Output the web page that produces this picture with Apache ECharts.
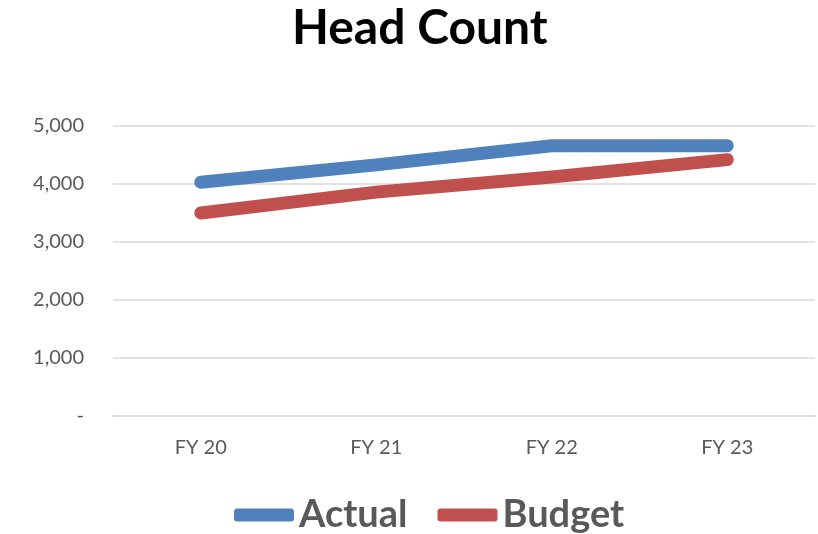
<!DOCTYPE html>
<html><head><meta charset="utf-8">
<script src="https://cdn.jsdelivr.net/npm/echarts@6/dist/echarts.min.js"></script>
<style>html,body{margin:0;padding:0;background:#fff}#c{width:818px;height:534px}</style>
</head><body><div id="c"></div>
<script>
const categories = ['FY 20', 'FY 21', 'FY 22', 'FY 23'];
const actual = [4030, 4330, 4660, 4660];
const budget = [3500, 3860, 4120, 4420];
const yTicks = [0, 1000, 2000, 3000, 4000, 5000];

const chart = echarts.init(document.getElementById('c'));
chart.setOption({
  animation: false,
  title: { text: 'Head Count', left: 287, top: 0,
    textStyle: { fontFamily: 'Lato', fontWeight: 'bold', fontSize: 48, color: '#000' } },
  grid: { left: 113, right: 3, top: 126, bottom: 118 },
  legend: { bottom: 0, padding: 0, left: 234, itemWidth: 60, itemHeight: 13, itemGap: 30,
    icon: 'roundRect',
    textStyle: { fontFamily: 'Lato', fontWeight: 'bold', fontSize: 38, color: '#595959' },
    data: ['Actual', 'Budget'] },
  xAxis: { type: 'category', data: categories, boundaryGap: true,
    axisLine: { lineStyle: { color: '#d9d9d9', width: 1.5 } }, axisTick: { show: false },
    axisLabel: { fontFamily: 'Lato', fontSize: 20, color: '#595959', margin: 22 } },
  yAxis: { type: 'value', min: yTicks[0], max: yTicks[yTicks.length-1], interval: 1000,
    axisLine: { show: false }, axisTick: { show: false },
    splitLine: { lineStyle: { color: '#d9d9d9', width: 1.5 } },
    axisLabel: { fontFamily: 'Lato', fontSize: 20, color: '#595959', margin: 29,
      formatter: v => v === 0 ? '-' : v.toLocaleString('en-US') } },
  series: [
    { name: 'Actual', type: 'line', data: actual, symbol: 'none', color: '#4F81BD',
      lineStyle: { width: 13, cap: 'round', join: 'round' } },
    { name: 'Budget', type: 'line', data: budget, symbol: 'none', color: '#C0504D',
      lineStyle: { width: 13, cap: 'round', join: 'round' } }
  ]
});
</script></body></html>
